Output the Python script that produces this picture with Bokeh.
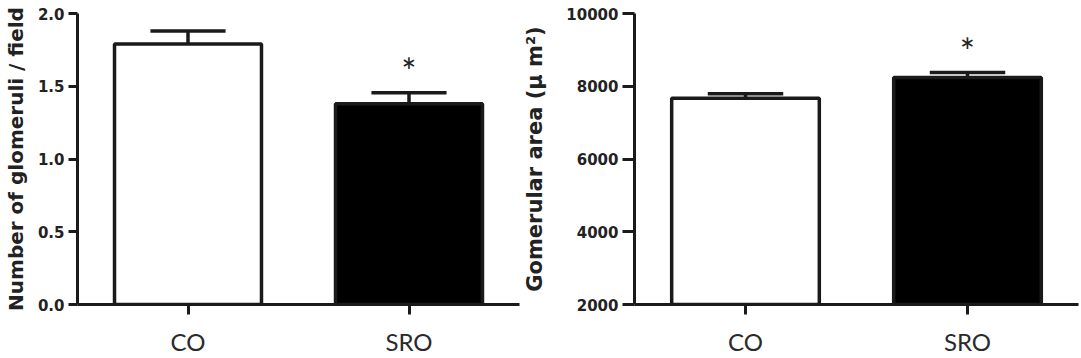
from bokeh.plotting import figure
from bokeh.layouts import row
from bokeh.models import Range1d, FixedTicker, ColumnDataSource, NumeralTickFormatter, BasicTickFormatter
from bokeh.embed import file_html
from bokeh.resources import INLINE
from bokeh.core.properties import value

categories = ["CO", "SRO"]
bar_fills = ["white", "black"]
significance = ["", "*"]

glom_mean = [1.79, 1.38]
glom_sem = [0.09, 0.075]
glom_ticks = [0.0, 0.5, 1.0, 1.5, 2.0]
glom_label = "Number of glomeruli / field"

area_mean = [7670, 8240]
area_sem = [125, 135]
area_ticks = [2000, 4000, 6000, 8000, 10000]
area_label = "Gomerular area (\u00b5 m\u00b2)"

INK = "#1a1a1a"
TICK_FONT = "DejaVu Sans"
CAT_FONT = "Lato"


def make_panel(width, border_left, border_right, means, sems, yticks, ylabel,
               label_standoff, label_size, formatter, tick_out):
    xs = [i + 1 for i in range(len(categories))]
    base = yticks[0]
    p = figure(width=width, height=358,
               x_range=Range1d(0.5, len(categories) + 0.5),
               y_range=Range1d(yticks[0], yticks[-1]),
               output_backend="svg", toolbar_location=None,
               min_border_left=border_left, min_border_right=border_right,
               min_border_top=13, min_border_bottom=52)
    p.outline_line_color = None
    p.grid.visible = False
    p.background_fill_color = "white"
    p.border_fill_color = "white"

    src = ColumnDataSource(dict(
        x=xs, top=means, fill=bar_fills,
        err=[m + s for m, s in zip(means, sems)],
        cap0=[x - 0.17 for x in xs], cap1=[x + 0.17 for x in xs],
        sig=significance,
    ))
    p.vbar(x="x", top="top", bottom=base, width=0.665, fill_color="fill",
           line_color=INK, line_width=3.5, source=src)
    p.segment(x0="x", y0="top", x1="x", y1="err", line_color=INK,
              line_width=3.5, source=src)
    p.segment(x0="cap0", y0="err", x1="cap1", y1="err", line_color=INK,
              line_width=3.5, source=src)
    p.text(x="x", y="err", text="sig", text_align="center",
           text_baseline="alphabetic", y_offset=-22,
           text_font=value(CAT_FONT), text_font_size="36px",
           text_color="#222222", source=src)

    # axes
    p.xaxis.ticker = FixedTicker(ticks=xs)
    p.xaxis.major_label_overrides = {x: c for x, c in zip(xs, categories)}
    p.xaxis.major_label_text_font = CAT_FONT
    p.xaxis.major_label_text_font_size = "24px"
    p.xaxis.major_label_text_color = "#2a2a2a"
    p.xaxis.major_tick_out = 10
    p.xaxis.major_tick_in = 0
    p.xaxis.minor_tick_line_color = None
    p.xaxis.major_label_standoff = 12

    p.yaxis.ticker = FixedTicker(ticks=yticks)
    p.yaxis.formatter = formatter
    p.yaxis.major_label_text_font = TICK_FONT
    p.yaxis.major_label_text_font_style = "bold"
    p.yaxis.major_label_text_font_size = "15px"
    p.yaxis.major_label_text_color = "#222222"
    p.yaxis.major_tick_out = tick_out
    p.yaxis.major_tick_in = 0
    p.yaxis.minor_tick_line_color = None
    p.yaxis.major_label_standoff = 4

    p.yaxis.axis_label = ylabel
    p.yaxis.axis_label_text_font = TICK_FONT
    p.yaxis.axis_label_text_font_style = "bold"
    p.yaxis.axis_label_text_font_size = label_size
    p.yaxis.axis_label_text_color = "#222222"
    p.yaxis.axis_label_standoff = label_standoff

    for ax in (p.xaxis, p.yaxis):
        ax.axis_line_color = INK
        ax.axis_line_width = 3
        ax.major_tick_line_color = INK
        ax.major_tick_line_width = 3
    return p


p1 = make_panel(520, 76, 1, glom_mean, glom_sem, glom_ticks, glom_label,
                7, "20px", NumeralTickFormatter(format="0.0"), 9)
p2 = make_panel(561, 114, 3, area_mean, area_sem, area_ticks, area_label,
                16, "21px", BasicTickFormatter(use_scientific=False), 12)

layout = row(p1, p2)
open("out.html", "w").write(file_html(layout, INLINE))
